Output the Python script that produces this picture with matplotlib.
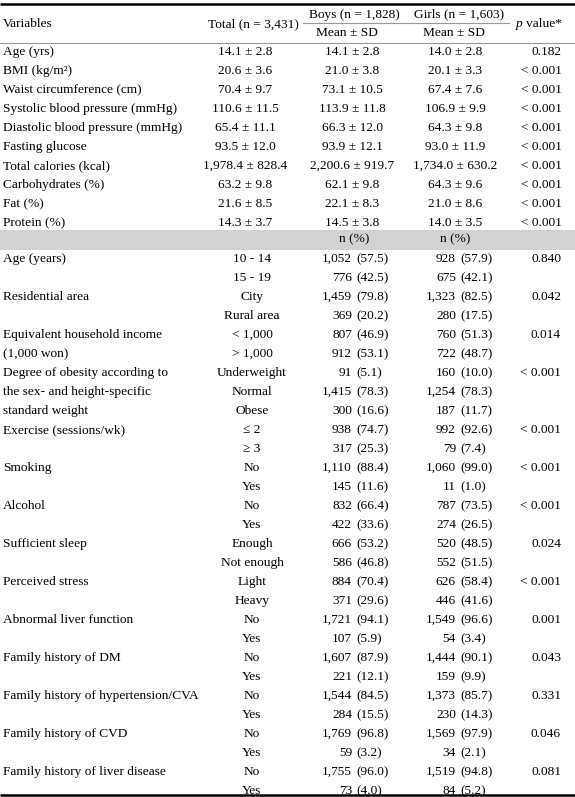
#!/usr/bin/env python3
"""Baseline characteristics table (boys vs girls) drawn with matplotlib."""

import matplotlib
matplotlib.use("Agg")
import matplotlib.pyplot as plt

# continuous variables: mean / SD
cont_vars = [
    "Age (yrs)", "BMI (kg/m²)", "Waist circumference (cm)",
    "Systolic blood pressure (mmHg)", "Diastolic blood pressure (mmHg)",
    "Fasting glucose", "Total calories (kcal)", "Carbohydrates (%)",
    "Fat (%)", "Protein (%)",
]
total_mean = [14.1, 20.6, 70.4, 110.6, 65.4, 93.5, 1978.4, 63.2, 21.6, 14.3]
total_sd = [2.8, 3.6, 9.7, 11.5, 11.1, 12.0, 828.4, 9.8, 8.5, 3.7]
boys_mean = [14.1, 21.0, 73.1, 113.9, 66.3, 93.9, 2200.6, 62.1, 22.1, 14.5]
boys_sd = [2.8, 3.8, 10.5, 11.8, 12.0, 12.1, 919.7, 9.8, 8.3, 3.8]
girls_mean = [14.0, 20.1, 67.4, 106.9, 64.3, 93.0, 1734.0, 64.3, 21.0, 14.0]
girls_sd = [2.8, 3.3, 7.6, 9.9, 9.8, 11.9, 630.2, 9.6, 8.6, 3.5]
cont_p = ["0.182", "< 0.001", "< 0.001", "< 0.001", "< 0.001",
          "< 0.001", "< 0.001", "< 0.001", "< 0.001", "< 0.001"]

# categorical variables: n (%)
cat_labels = [
    ["Age (years)"],
    ["Residential area"],
    ["Equivalent household income", "(1,000 won)"],
    ["Degree of obesity according to", "the sex- and height-specific", "standard weight"],
    ["Exercise (sessions/wk)"],
    ["Smoking"],
    ["Alcohol"],
    ["Sufficient sleep"],
    ["Perceived stress"],
    ["Abnormal liver function"],
    ["Family history of DM"],
    ["Family history of hypertension/CVA"],
    ["Family history of CVD"],
    ["Family history of liver disease"],
]
cat_levels = [
    ["10 - 14", "15 - 19"], ["City", "Rural area"], ["< 1,000", "> 1,000"],
    ["Underweight", "Normal", "Obese"], ["≤ 2", "≥ 3"], ["No", "Yes"],
    ["No", "Yes"], ["Enough", "Not enough"], ["Light", "Heavy"],
    ["No", "Yes"], ["No", "Yes"], ["No", "Yes"], ["No", "Yes"], ["No", "Yes"],
]
boys_n = [[1052, 776], [1459, 369], [807, 912], [91, 1415, 300], [938, 317],
          [1110, 145], [832, 422], [666, 586], [884, 371], [1721, 107],
          [1607, 221], [1544, 284], [1769, 59], [1755, 73]]
boys_pct = [[57.5, 42.5], [79.8, 20.2], [46.9, 53.1], [5.1, 78.3, 16.6],
            [74.7, 25.3], [88.4, 11.6], [66.4, 33.6], [53.2, 46.8],
            [70.4, 29.6], [94.1, 5.9], [87.9, 12.1], [84.5, 15.5],
            [96.8, 3.2], [96.0, 4.0]]
girls_n = [[928, 675], [1323, 280], [760, 722], [160, 1254, 187], [992, 79],
           [1060, 11], [787, 274], [520, 552], [626, 446], [1549, 54],
           [1444, 159], [1373, 230], [1569, 34], [1519, 84]]
girls_pct = [[57.9, 42.1], [82.5, 17.5], [51.3, 48.7], [10.0, 78.3, 11.7],
             [92.6, 7.4], [99.0, 1.0], [73.5, 26.5], [48.5, 51.5],
             [58.4, 41.6], [96.6, 3.4], [90.1, 9.9], [85.7, 14.3],
             [97.9, 2.1], [94.8, 5.2]]
cat_p = ["0.840", "0.042", "0.014", "< 0.001", "< 0.001", "< 0.001", "< 0.001",
         "0.024", "< 0.001", "0.001", "0.043", "0.331", "0.046", "0.081"]

W, H = 575, 797
plt.rcParams["font.family"] = ["Liberation Serif", "DejaVu Serif"]
FS = 9.6

fig = plt.figure(figsize=(W / 100, H / 100), dpi=100)
ax = fig.add_axes([0, 0, 1, 1])
ax.set_xlim(0, W)
ax.set_ylim(H, 0)
ax.axis("off")

# column positions (pixels)
X_VAR = 3
X_TOTAL = 245
X_LEVEL = 252
X_BOYS = 352
X_GIRLS = 455
X_P = 562
ROW = 19.0


def txt(x, y, s, ha="center", **kw):
    ax.text(x, y, s, ha=ha, va="center", fontsize=FS, color="black", **kw)


# rules
ax.plot([0, W], [3.5, 3.5], color="black", lw=1.8, solid_capstyle="butt")
ax.plot([303, 509], [22.5, 22.5], color="#999999", lw=0.8)
ax.plot([0, W], [42.5, 42.5], color="#999999", lw=0.8)
ax.plot([0, W], [794.5, 794.5], color="black", lw=1.8, solid_capstyle="butt")
ax.axhspan(229.5, 249.5, color="#d2d2d2", lw=0)

# header
txt(X_VAR, 24, "Variables", ha="left")
txt(253, 24, "Total (n = 3,431)")
txt(354, 14.5, "Boys (n = 1,828)")
txt(459, 14.5, "Girls (n = 1,603)")
txt(347, 33, "Mean ± SD")
txt(454, 33, "Mean ± SD")
txt(523, 24, "p", ha="right", style="italic")
txt(X_P, 24, "value*", ha="right")

# continuous block
y = 52
for i, name in enumerate(cont_vars):
    txt(X_VAR, y, name, ha="left")
    txt(X_TOTAL, y, f"{total_mean[i]:,.1f} ± {total_sd[i]:,.1f}")
    txt(X_BOYS, y, f"{boys_mean[i]:,.1f} ± {boys_sd[i]:,.1f}")
    txt(X_GIRLS, y, f"{girls_mean[i]:,.1f} ± {girls_sd[i]:,.1f}")
    txt(X_P, y, cont_p[i], ha="right")
    y += ROW

# shaded sub-header
txt(354, 239.5, "n (%)")
txt(455, 239.5, "n (%)")

# categorical block
y = 259
for g, lines in enumerate(cat_labels):
    for k, line in enumerate(lines):
        txt(X_VAR, y + k * ROW, line, ha="left")
    txt(X_P - 1, y, cat_p[g], ha="right")
    for j, lev in enumerate(cat_levels[g]):
        yy = y + j * ROW
        txt(X_LEVEL, yy, lev)
        txt(352, yy, f"{boys_n[g][j]:,}", ha="right")
        txt(356, yy, f"({boys_pct[g][j]:.1f})", ha="left")
        txt(456, yy, f"{girls_n[g][j]:,}", ha="right")
        txt(460, yy, f"({girls_pct[g][j]:.1f})", ha="left")
    y += ROW * len(cat_levels[g])

fig.savefig("out.png", dpi=100)
